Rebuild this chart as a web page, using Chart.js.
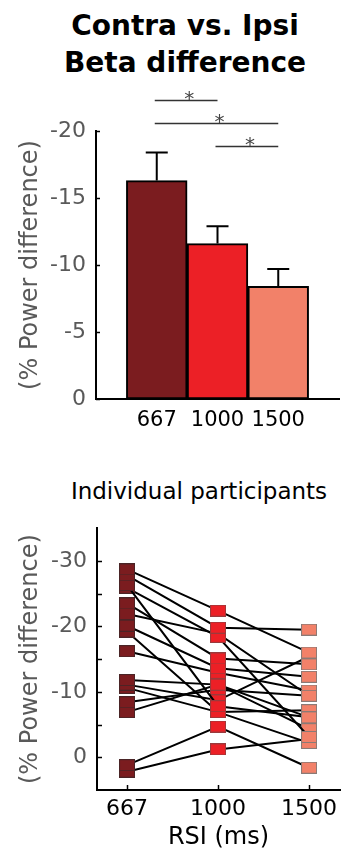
<!DOCTYPE html>
<html>
<head>
<meta charset="utf-8">
<script src="https://cdn.jsdelivr.net/npm/chart.js@4.4.1/dist/chart.umd.min.js"></script>
<style>
  body { margin: 0; background: #fff; width: 348px; height: 854px; position: relative; overflow: hidden; font-family: "DejaVu Sans", sans-serif; }
  canvas { position: absolute; }
  .title { position: absolute; width: 348px; text-align: center; color: #000; white-space: nowrap; }
</style>
</head>
<body>
<div class="title" style="left:11px; top:7px; font-weight:bold; font-size:28px; line-height:37px;">Contra vs. Ipsi<br>Beta difference</div>
<div class="title" style="left:25px; top:477px; font-size:23px; line-height:28px;">Individual participants</div>
<canvas id="barChart" width="332" height="355" style="left:16px; top:85px;"></canvas>
<canvas id="partChart" width="332" height="349" style="left:16px; top:505px;"></canvas>
<script>
// group means (top panel)
const barLabels = ['667', '1000', '1500'];
const barPositions = [1, 2, 3];
const barMeans = [-16.3, -11.6, -8.4];
const barErrors = [2.1, 1.3, 1.3];
const barColors = ['#7b1c1f', '#ec2026', '#f28169'];
const topTicks = [-20, -15, -10, -5, 0];
const sigPairs = [[1, 2], [1, 3], [2, 3]];
const sigLevels = [-22.3, -20.6, -18.9];

// individual participants (bottom panel)
const rsiLabels = ['667', '1000', '1500'];
const rsiPositions = [1, 2, 3];
const p667 = [-28.7, -27.8, -26.3, -25.9, -23.5, -21.9, -20.1, -19.2, -16.2, -11.8, -11.1, -10.6, -8.4, -6.9, 1.2, 2.2];
const p1000 = [-22.4, -19.8, -7.8, -18.4, -15.1, -18.9, -13.6, -6.9, -12.9, -11.1, -8.7, -6.9, -10.3, -11.1, -4.7, -1.2];
const p1500 = [-16.0, -19.5, -6.1, -3.1, -14.2, -9.4, -12.3, -7.2, -10.2, -4.3, -15.4, -2.2, -9.4, -6.1, 1.6, -2.8];
const bottomTicks = [-30, -25, -20, -15, -10, -5, 0];
const bottomTickLabels = ['-30', '', '-20', '', '-10', '', '0'];

Chart.defaults.font.family = 'DejaVu Sans';
Chart.defaults.animation = false;

const grey = '#595959';

function marker(fill, edge) {
  const c = document.createElement('canvas');
  c.width = 16; c.height = 12;
  const g = c.getContext('2d');
  g.fillStyle = edge;
  g.fillRect(0, 0, 16, 12);
  g.fillStyle = fill;
  g.fillRect(1, 1, 14, 10);
  return c;
}
const markers = [
  marker(barColors[0], '#4a2426'),
  marker(barColors[1], '#9a3a3c'),
  marker(barColors[2], '#8a7a76')
];

function inwardYTicks(chart, len) {
  const {ctx, chartArea, scales: {y}} = chart;
  ctx.save();
  ctx.strokeStyle = '#000';
  ctx.lineWidth = 1.5;
  y.ticks.forEach(t => {
    const py = Math.round(y.getPixelForValue(t.value)) + 0.5;
    ctx.beginPath();
    ctx.moveTo(chartArea.left, py);
    ctx.lineTo(chartArea.left + len, py);
    ctx.stroke();
  });
  ctx.restore();
}

const barExtras = {
  id: 'barExtras',
  afterDatasetsDraw(chart) {
    const {ctx, scales: {x, y}} = chart;
    ctx.save();
    ctx.strokeStyle = '#000';
    ctx.lineWidth = 2;
    barPositions.forEach((p, i) => {
      const cx = x.getPixelForValue(p);
      const y0 = y.getPixelForValue(barMeans[i]);
      const y1 = y.getPixelForValue(barMeans[i] - barErrors[i]);
      ctx.beginPath();
      ctx.moveTo(cx, y0);
      ctx.lineTo(cx, y1);
      ctx.moveTo(cx - 11, y1);
      ctx.lineTo(cx + 11, y1);
      ctx.stroke();
    });
    ctx.restore();
  },
  afterDraw(chart) {
    inwardYTicks(chart, 4);
    const {ctx, scales: {x, y}} = chart;
    ctx.save();
    ctx.strokeStyle = '#333';
    ctx.fillStyle = '#444';
    ctx.lineWidth = 1.5;
    ctx.font = '20px "DejaVu Sans"';
    ctx.textAlign = 'center';
    ctx.textBaseline = 'alphabetic';
    sigPairs.forEach((pair, i) => {
      const xa = x.getPixelForValue(pair[0]);
      const xb = x.getPixelForValue(pair[1]);
      const py = Math.round(y.getPixelForValue(sigLevels[i])) + 0.5;
      ctx.beginPath();
      ctx.moveTo(xa - 2, py);
      ctx.lineTo(xb, py);
      ctx.stroke();
      ctx.fillText('*', (xa + xb) / 2 + 2, py + 4);
    });
    ctx.restore();
  }
};

new Chart(document.getElementById('barChart'), {
  type: 'bar',
  data: {
    datasets: [{
      data: barPositions.map((p, i) => ({x: p, y: barMeans[i]})),
      backgroundColor: barColors,
      borderColor: '#000',
      borderWidth: 2,
      borderSkipped: false,
      barPercentage: 1,
      categoryPercentage: 1
    }]
  },
  options: {
    responsive: false,
    layout: {padding: {top: 46, right: 9, bottom: 0, left: 0}},
    plugins: {legend: {display: false}, tooltip: {enabled: false}},
    scales: {
      x: {
        type: 'linear', min: 0, max: 4, offset: false,
        afterBuildTicks: s => { s.ticks = barPositions.map(v => ({value: v})); },
        afterFit: s => { s.height = 41; },
        ticks: {color: '#000', font: {size: 21}, padding: 9, autoSkip: false, maxRotation: 0,
                callback: (v, i) => barLabels[i]},
        grid: {display: false, drawTicks: false},
        border: {display: true, color: '#000', width: 2}
      },
      y: {
        type: 'linear', reverse: true, min: -20, max: 0,
        afterBuildTicks: s => { s.ticks = topTicks.map(v => ({value: v})); },
        afterFit: s => { s.width = 80; },
        ticks: {color: grey, font: {size: 22}, padding: 10, callback: v => String(v)},
        grid: {display: false, drawTicks: false},
        border: {display: true, color: '#000', width: 2},
        title: {display: true, text: '(% Power difference)', color: grey, font: {size: 24}, padding: {top: 0, bottom: 0}}
      }
    }
  },
  plugins: [barExtras]
});

const partExtras = {
  id: 'partExtras',
  afterDraw(chart) {
    inwardYTicks(chart, 5);
    const {ctx, chartArea, scales: {x}} = chart;
    ctx.save();
    ctx.strokeStyle = '#000';
    ctx.lineWidth = 1.5;
    x.ticks.forEach(t => {
      const px = Math.round(x.getPixelForValue(t.value)) + 0.5;
      ctx.beginPath();
      ctx.moveTo(px, chartArea.bottom);
      ctx.lineTo(px, chartArea.bottom - 5);
      ctx.stroke();
    });
    ctx.restore();
  }
};

new Chart(document.getElementById('partChart'), {
  type: 'line',
  data: {
    datasets: p667.map((v, i) => ({
      data: [{x: 1, y: v}, {x: 2, y: p1000[i]}, {x: 3, y: p1500[i]}],
      borderColor: '#000',
      borderWidth: 2,
      pointStyle: markers,
      pointRadius: 6,
      tension: 0
    }))
  },
  options: {
    responsive: false,
    layout: {padding: {top: 18, right: 0, bottom: 0, left: 0}},
    plugins: {legend: {display: false}, tooltip: {enabled: false}},
    scales: {
      x: {
        type: 'linear', min: 0.67, max: 3.34,
        afterBuildTicks: s => { s.ticks = rsiPositions.map(v => ({value: v})); },
        afterFit: s => { s.height = 64; },
        ticks: {color: '#000', font: {size: 22}, padding: 6, autoSkip: false, maxRotation: 0,
                callback: (v, i) => rsiLabels[i]},
        grid: {display: false, drawTicks: false},
        border: {display: true, color: '#000', width: 2},
        title: {display: true, text: 'RSI (ms)', color: '#000', font: {size: 24}, padding: {top: 0, bottom: 2}}
      },
      y: {
        type: 'linear', reverse: true, min: -35, max: 5,
        afterBuildTicks: s => { s.ticks = bottomTicks.map(v => ({value: v})); },
        afterFit: s => { s.width = 81; },
        ticks: {color: grey, font: {size: 22}, padding: 10, autoSkip: false,
                callback: (v, i) => bottomTickLabels[i]},
        grid: {display: false, drawTicks: false},
        border: {display: true, color: '#000', width: 2},
        title: {display: true, text: '(% Power difference)', color: grey, font: {size: 24}, padding: {top: 0, bottom: 0}}
      }
    }
  },
  plugins: [partExtras]
});
</script>
</body>
</html>
